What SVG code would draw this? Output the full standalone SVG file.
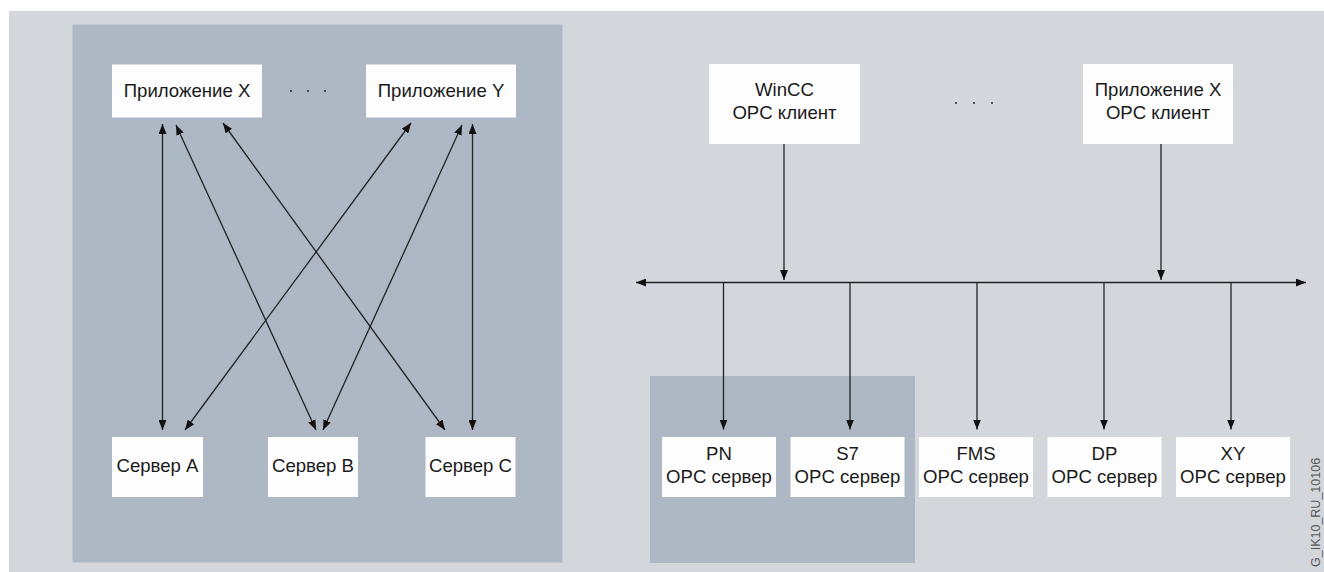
<svg xmlns="http://www.w3.org/2000/svg" width="1324" height="572" viewBox="0 0 1324 572">
<defs>
<style>
.bg{fill:#d3d7dc}
.panel{fill:#adb8c4}
.box{fill:#fdfdfd}
.t{font-family:"Liberation Sans",Arial,sans-serif;font-size:18.6px;fill:#1a1a1a;text-anchor:middle}
.ln{stroke:#222;stroke-width:1.3;fill:none}
.dot{fill:#333}
.code{font-family:"Liberation Sans",Arial,sans-serif;font-size:12.5px;fill:#555}
</style>
<marker id="ah" viewBox="0 0 10 8" refX="10" refY="4" markerWidth="10" markerHeight="8" markerUnits="userSpaceOnUse" orient="auto-start-reverse">
<path d="M0,0 L10,4 L0,8 z" fill="#111"/>
</marker>
</defs>
<rect class="bg" x="9" y="11" width="1315" height="561"/>

<g id="panel-left"><rect class="panel" x="72.5" y="24.5" width="490" height="538"/></g>
<g id="panel-right-sub"><rect class="panel" x="650" y="376" width="265" height="187"/></g>

<g id="app-x"><rect class="box" x="112" y="64.5" width="150" height="53"/><text class="t" x="187" y="96.5">Приложение X</text></g>
<g id="app-y"><rect class="box" x="366" y="64.5" width="150" height="53"/><text class="t" x="441" y="96.5">Приложение Y</text></g>
<g id="dots-left"><circle class="dot" cx="291" cy="91" r="1.1"/><circle class="dot" cx="308" cy="91" r="1.1"/><circle class="dot" cx="325" cy="91" r="1.1"/></g>

<g id="server-a"><rect class="box" x="112" y="437" width="91" height="60"/><text class="t" x="157.5" y="471.5">Сервер A</text></g>
<g id="server-b"><rect class="box" x="268" y="437" width="90" height="60"/><text class="t" x="313" y="471.5">Сервер B</text></g>
<g id="server-c"><rect class="box" x="425.5" y="437" width="90" height="60"/><text class="t" x="470.5" y="471.5">Сервер C</text></g>

<g id="client-wincc"><rect class="box" x="709" y="64" width="151" height="80"/><text class="t" x="784.5" y="95.5">WinCC</text><text class="t" x="784.5" y="118.5">OPC клиент</text></g>
<g id="client-x"><rect class="box" x="1083" y="64" width="150" height="80"/><text class="t" x="1158" y="95.5">Приложение X</text><text class="t" x="1158" y="118.5">OPC клиент</text></g>
<g id="dots-right"><circle class="dot" cx="956" cy="103" r="1.1"/><circle class="dot" cx="974" cy="103" r="1.1"/><circle class="dot" cx="992" cy="103" r="1.1"/></g>

<g id="srv-pn"><rect class="box" x="662" y="437" width="114" height="60"/><text class="t" x="719" y="459.5">PN</text><text class="t" x="719" y="482.5">OPC сервер</text></g>
<g id="srv-s7"><rect class="box" x="790.5" y="437" width="114" height="60"/><text class="t" x="847.5" y="459.5">S7</text><text class="t" x="847.5" y="482.5">OPC сервер</text></g>
<g id="srv-fms"><rect class="box" x="919" y="437" width="114" height="60"/><text class="t" x="976" y="459.5">FMS</text><text class="t" x="976" y="482.5">OPC сервер</text></g>
<g id="srv-dp"><rect class="box" x="1047.5" y="437" width="114" height="60"/><text class="t" x="1104.5" y="459.5">DP</text><text class="t" x="1104.5" y="482.5">OPC сервер</text></g>
<g id="srv-xy"><rect class="box" x="1176" y="437" width="114" height="60"/><text class="t" x="1233" y="459.5">XY</text><text class="t" x="1233" y="482.5">OPC сервер</text></g>

<g id="connectors">
<line class="ln" x1="162.5" y1="124" x2="162.5" y2="430" marker-start="url(#ah)" marker-end="url(#ah)"/>
<line class="ln" x1="176" y1="125" x2="316" y2="430" marker-start="url(#ah)" marker-end="url(#ah)"/>
<line class="ln" x1="223" y1="123" x2="445" y2="430" marker-start="url(#ah)" marker-end="url(#ah)"/>
<line class="ln" x1="411" y1="123" x2="185" y2="430" marker-start="url(#ah)" marker-end="url(#ah)"/>
<line class="ln" x1="462" y1="125" x2="323" y2="430" marker-start="url(#ah)" marker-end="url(#ah)"/>
<line class="ln" x1="472.5" y1="124" x2="472.5" y2="430" marker-start="url(#ah)" marker-end="url(#ah)"/>

<line class="ln" x1="636" y1="282.5" x2="1306" y2="282.5" marker-start="url(#ah)" marker-end="url(#ah)"/>
<line class="ln" x1="784" y1="144" x2="784" y2="280" marker-end="url(#ah)"/>
<line class="ln" x1="1161" y1="144" x2="1161" y2="280" marker-end="url(#ah)"/>
<line class="ln" x1="723.5" y1="282.5" x2="723.5" y2="429.5" marker-end="url(#ah)"/>
<line class="ln" x1="850" y1="282.5" x2="850" y2="429.5" marker-end="url(#ah)"/>
<line class="ln" x1="977" y1="282.5" x2="977" y2="429.5" marker-end="url(#ah)"/>
<line class="ln" x1="1104" y1="282.5" x2="1104" y2="429.5" marker-end="url(#ah)"/>
<line class="ln" x1="1231" y1="282.5" x2="1231" y2="429.5" marker-end="url(#ah)"/>
</g>

<text class="code" transform="translate(1320,567) rotate(-90)">G_IK10_RU_10106</text>
</svg>
